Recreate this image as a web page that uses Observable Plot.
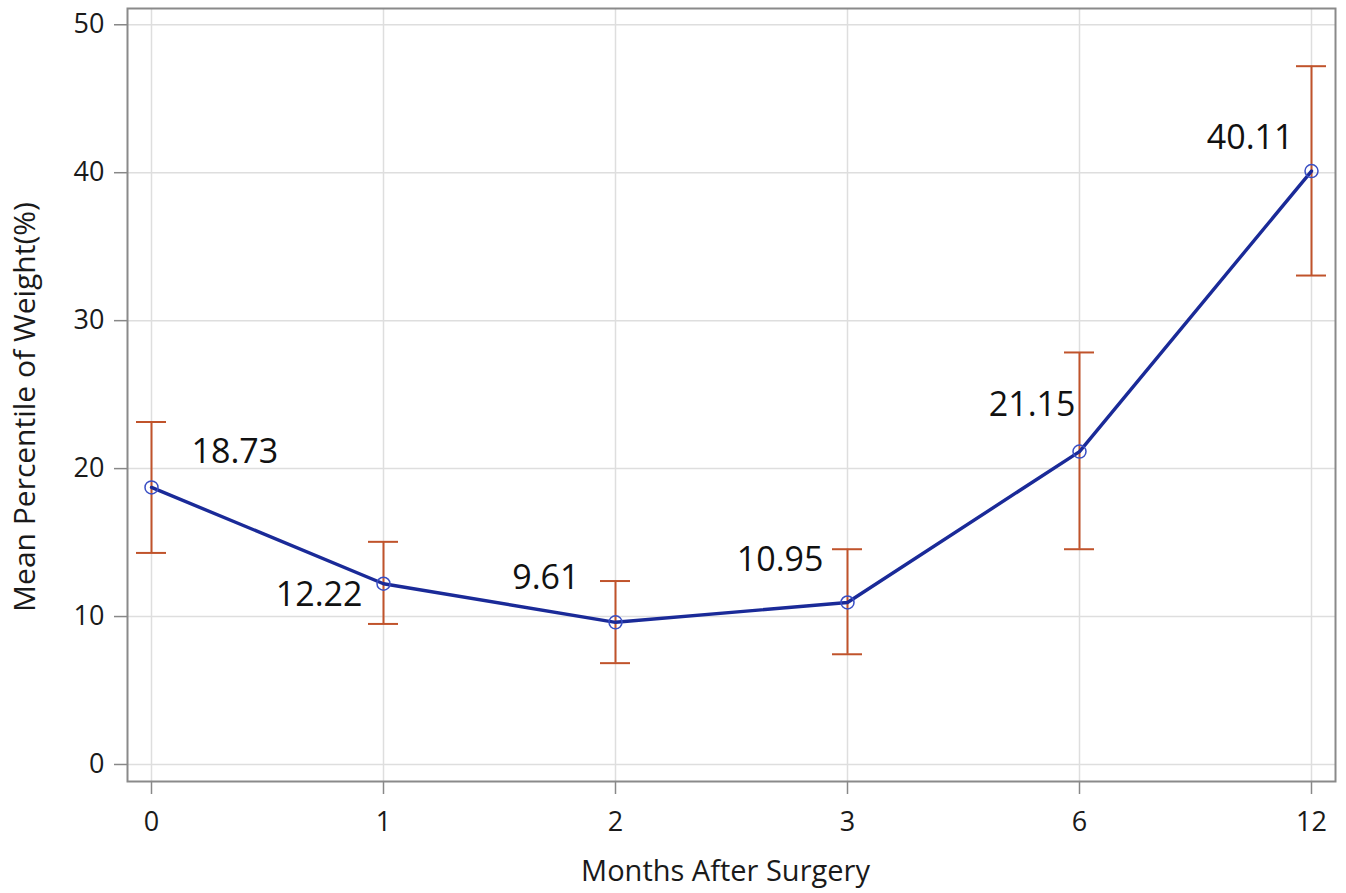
<!DOCTYPE html>
<html>
<head>
<meta charset="utf-8">
<script src="https://cdn.jsdelivr.net/npm/d3@7"></script>
<script src="https://cdn.jsdelivr.net/npm/@observablehq/plot@0.6"></script>
<style>
  html, body { margin: 0; padding: 0; background: #fff; }
  #chart svg { display: block; }
</style>
</head>
<body>
<div id="chart"></div>
<script>
// Data
const months = ["0", "1", "2", "3", "6", "12"];
const meanValues = [18.73, 12.22, 9.61, 10.95, 21.15, 40.11];
const lowerValues = [14.3, 9.5, 6.85, 7.45, 14.55, 33.05];
const upperValues = [23.15, 15.05, 12.4, 14.55, 27.85, 47.2];
const labelTexts = ["18.73", "12.22", "9.61", "10.95", "21.15", "40.11"];
const yTicks = [0, 10, 20, 30, 40, 50];
const xTitle = "Months After Surgery";
const yTitle = "Mean Percentile of Weight(%)";

const rows = months.map((m, i) => ({
  month: m, mean: meanValues[i], lo: lowerValues[i], hi: upperValues[i], label: labelTexts[i]
}));

const lineColor = "#1a2a98";
const dotColor = "#3a4fc4";
const errColor = "#c0532b";
const labelFont = 34;

function label(i, anchor, dx, dy) {
  return Plot.text([rows[i]], {
    x: "month", y: "mean", text: "label",
    textAnchor: anchor, dx, dy,
    fontSize: labelFont, fill: "#111", fontFamily: "Open Sans"
  });
}

const chart = Plot.plot({
  width: 1346,
  height: 893,
  marginLeft: 127,
  marginRight: 11,
  marginTop: 8,
  marginBottom: 112,
  style: { fontFamily: "Open Sans", fontSize: "27px", color: "#1a1a1a", background: "#fff" },
  x: { type: "band", domain: months, paddingInner: 0.871, paddingOuter: 0.028, align: 0.5 },
  y: { domain: [-1.15, 51.1] },
  marks: [
    Plot.gridX(months, { stroke: "#dedede", strokeOpacity: 1, strokeWidth: 1.5 }),
    Plot.gridY(yTicks, { stroke: "#dedede", strokeOpacity: 1, strokeWidth: 1.5 }),
    Plot.axisY(yTicks, {
      tickSize: 13, tickPadding: 10, stroke: "#888", strokeWidth: 1.5,
      fontSize: 27, label: null
    }),
    Plot.axisX(months, {
      tickSize: 13, tickPadding: 17, stroke: "#888", strokeWidth: 1.5,
      fontSize: 27, label: null
    }),
    Plot.text([yTitle], {
      frameAnchor: "left", rotate: -90, dx: -102, dy: 12,
      fontSize: 30, fill: "#1a1a1a", textAnchor: "middle", lineAnchor: "middle"
    }),
    Plot.text([xTitle], {
      frameAnchor: "bottom", dx: -6, dy: 90,
      fontSize: 29, fill: "#1a1a1a", textAnchor: "middle", lineAnchor: "middle"
    }),
    Plot.ruleX(rows, { x: "month", y1: "lo", y2: "hi", stroke: errColor, strokeWidth: 2 }),
    Plot.tickY(rows, { x: "month", y: "lo", stroke: errColor, strokeWidth: 2 }),
    Plot.tickY(rows, { x: "month", y: "hi", stroke: errColor, strokeWidth: 2 }),
    Plot.line(rows, { x: "month", y: "mean", stroke: lineColor, strokeWidth: 3.4 }),
    Plot.dot(rows, { x: "month", y: "mean", r: 6.5, stroke: dotColor, strokeWidth: 1.5, fill: "none" }),
    label(0, "start", 40, -35),
    label(1, "end", -21, 11),
    label(2, "end", -36, -44),
    label(3, "end", -24, -42),
    label(4, "end", -4, -46),
    label(5, "end", -18, -33),
    Plot.frame({ stroke: "#8a8a8a", strokeWidth: 2 })
  ]
});
document.getElementById("chart").appendChild(chart);
</script>
</body>
</html>
